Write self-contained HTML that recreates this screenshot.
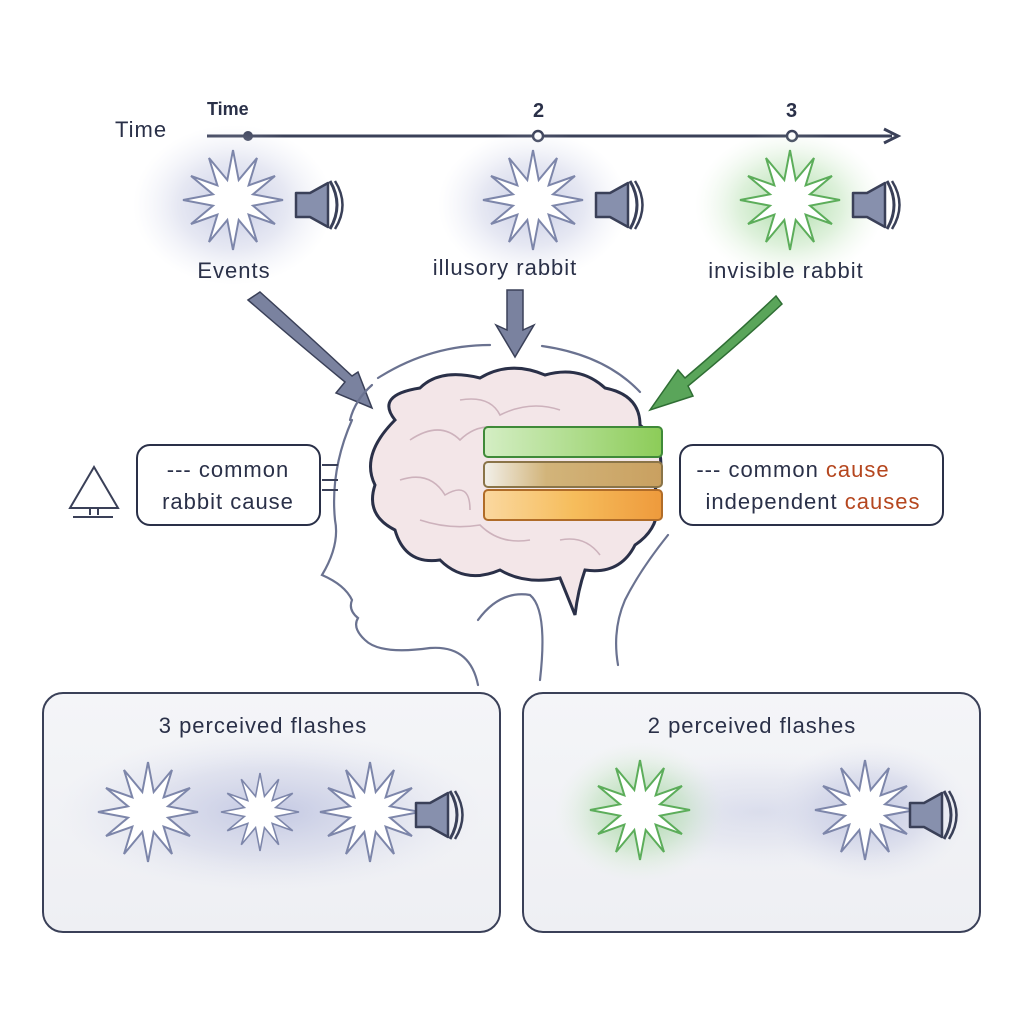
<!DOCTYPE html>
<html><head><meta charset="utf-8"><style>
html,body{margin:0;padding:0;background:#fff;}
svg{display:block;}
text{font-family:"Liberation Sans",sans-serif;fill:#2a3048;}
.l{font-size:22px;letter-spacing:1px;}
</style></head><body>
<svg width="1024" height="1024" viewBox="0 0 1024 1024" xmlns="http://www.w3.org/2000/svg">
<defs>
<radialGradient id="gb"><stop offset="0" stop-color="#b8bede" stop-opacity=".8"/><stop offset=".55" stop-color="#c8cce4" stop-opacity=".45"/><stop offset="1" stop-color="#dfe2f0" stop-opacity="0"/></radialGradient>
<radialGradient id="gg"><stop offset="0" stop-color="#8fd08a" stop-opacity=".8"/><stop offset=".55" stop-color="#b6e0b0" stop-opacity=".45"/><stop offset="1" stop-color="#dff0dc" stop-opacity="0"/></radialGradient>
<linearGradient id="bg1" x1="0" x2="1"><stop offset="0" stop-color="#d4eec4"/><stop offset="1" stop-color="#8ccc58"/></linearGradient>
<linearGradient id="bg2" x1="0" x2="1"><stop offset="0" stop-color="#f2f0ea"/><stop offset=".35" stop-color="#d2b47a"/><stop offset="1" stop-color="#c9a060"/></linearGradient>
<linearGradient id="bg3" x1="0" x2="1"><stop offset="0" stop-color="#fad8a0"/><stop offset=".5" stop-color="#f6bd5c"/><stop offset="1" stop-color="#ee9a3c"/></linearGradient>
<linearGradient id="pn" x1="0" y1="0" x2="0" y2="1"><stop offset="0" stop-color="#f4f5f8"/><stop offset="1" stop-color="#eeeff3"/></linearGradient>
<polygon id="star" points="0,-50 5.7,-20 24,-42 15.6,-14.6 42,-24 20,-5.7 50,0 20,5.7 42,24 15.6,14.6 24,42 5.7,20 0,50 -5.7,20 -24,42 -15.6,14.6 -42,24 -20,5.7 -50,0 -20,-5.7 -42,-24 -15.6,-14.6 -24,-42 -5.7,-20"/>
<g id="spk"><path d="M-22,-12 L-8,-12 L10,-22 L10,22 L-8,12 L-22,12 Z" fill="#8790ad" stroke="#3a4058" stroke-width="2.5" stroke-linejoin="round"/><path d="M12,-24 Q26,0 12,24" fill="none" stroke="#3a4058" stroke-width="3"/><path d="M17,-24 Q32,0 17,24" fill="none" stroke="#3a4058" stroke-width="2.5"/></g>
</defs>

<text x="115" y="137" font-size="22" letter-spacing="1">Time</text>
<text x="207" y="115" font-size="18" font-weight="bold">Time</text>
<text x="533" y="117" font-size="20" font-weight="bold">2</text>
<text x="786" y="117" font-size="20" font-weight="bold">3</text>
<line x1="207" y1="136" x2="892" y2="136" stroke="#3a4058" stroke-width="3"/>
<path d="M884,129 L898,136 L884,143" fill="none" stroke="#3a4058" stroke-width="3"/>
<circle cx="248" cy="136" r="5" fill="#3a4058"/>
<circle cx="538" cy="136" r="5" fill="#fff" stroke="#3a4058" stroke-width="2.5"/>
<circle cx="792" cy="136" r="5" fill="#fff" stroke="#3a4058" stroke-width="2.5"/>

<ellipse cx="233" cy="205" rx="100" ry="80" fill="url(#gb)"/>
<use href="#star" x="233" y="200" fill="#fff" stroke="#7d86aa" stroke-width="2"/>
<use href="#spk" x="318" y="205"/>
<ellipse cx="533" cy="205" rx="95" ry="75" fill="url(#gb)"/>
<use href="#star" x="533" y="200" fill="#fff" stroke="#7d86aa" stroke-width="2"/>
<use href="#spk" x="618" y="205"/>
<ellipse cx="790" cy="205" rx="95" ry="75" fill="url(#gg)"/>
<use href="#star" x="790" y="200" fill="#fff" stroke="#5cad5a" stroke-width="2"/>
<use href="#spk" x="875" y="205"/>
<text x="234" y="278" class="l" text-anchor="middle">Events</text>
<text x="505" y="275" class="l" text-anchor="middle">illusory rabbit</text>
<text x="786" y="278" class="l" text-anchor="middle">invisible rabbit</text>

<path d="M248,300 Q300,345 345,382 L336,393 L372,408 L358,372 L352,376 Q308,335 260,292 Z" fill="#7a829f" stroke="#3a4058" stroke-width="1.5"/>
<path d="M507,290 L523,290 L523,330 L534,325 L515,357 L496,325 L507,330 Z" fill="#7a829f" stroke="#3a4058" stroke-width="1.5"/>
<path d="M776,296 Q730,340 685,378 L678,370 L650,410 L693,396 L688,386 Q738,345 782,304 Z" fill="#5aa55a" stroke="#2f6e34" stroke-width="1.5"/>

<g fill="none" stroke="#6a7290" stroke-width="2.2" stroke-linecap="round">
<path d="M378,378 Q430,345 490,345"/>
<path d="M542,346 Q605,355 640,392"/>
<path d="M352,420 Q330,470 335,520 Q340,545 322,575 Q345,585 352,600 Q348,610 358,618 Q352,628 365,640 Q380,655 430,648 Q470,645 478,685"/>
<path d="M668,535 Q640,570 625,600 Q612,630 618,665"/>
<path d="M478,620 Q500,590 530,595 Q548,610 540,680"/>
<path d="M372,385 Q355,400 350,420"/>
</g>
<g stroke="#3a4058" stroke-width="2"><line x1="322" y1="465" x2="338" y2="465"/><line x1="322" y1="480" x2="338" y2="480"/><line x1="322" y1="490" x2="338" y2="490"/></g>

<path d="M395,420 Q375,395 420,388 Q440,368 480,378 Q510,360 545,375 Q580,365 605,388 Q640,395 640,425 Q672,450 655,490 Q665,525 635,545 Q620,575 585,570 Q578,590 575,615 Q565,590 560,578 Q525,585 500,570 Q465,585 440,560 Q405,565 395,530 Q365,515 375,485 Q360,455 395,420 Z" fill="#f3e6e8" stroke="#2a3048" stroke-width="3"/>
<g fill="none" stroke="#cdb2bc" stroke-width="1.6">
<path d="M410,440 Q440,420 460,440 Q480,420 510,430"/>
<path d="M400,480 Q430,470 445,495 Q470,480 470,510"/>
<path d="M460,400 Q490,395 500,415 Q530,400 560,410"/>
<path d="M420,520 Q450,530 480,525 Q500,545 530,540"/>
<path d="M560,540 Q585,535 600,555"/>
</g>
<rect x="484" y="427" width="178" height="30" rx="4" fill="url(#bg1)" stroke="#3f8a38" stroke-width="2"/>
<rect x="484" y="462" width="178" height="25" rx="4" fill="url(#bg2)" stroke="#8a7448" stroke-width="2"/>
<rect x="484" y="490" width="178" height="30" rx="4" fill="url(#bg3)" stroke="#b06c28" stroke-width="2"/>

<rect x="137" y="445" width="183" height="80" rx="13" fill="#fff" stroke="#2a3048" stroke-width="2"/>
<text x="228" y="477" class="l" text-anchor="middle">--- common</text>
<text x="228" y="509" class="l" text-anchor="middle">rabbit cause</text>
<rect x="680" y="445" width="263" height="80" rx="13" fill="#fff" stroke="#2a3048" stroke-width="2"/>
<text x="793" y="477" class="l" text-anchor="middle">--- common <tspan style="fill:#b5461e">cause</tspan></text>
<text x="813" y="509" class="l" text-anchor="middle">independent <tspan style="fill:#b5461e">causes</tspan></text>
<g fill="none" stroke="#3a4058" stroke-width="2"><path d="M94,467 L70,508 L118,508 Z"/><line x1="73" y1="517" x2="113" y2="517"/><line x1="90" y1="508" x2="90" y2="515"/><line x1="98" y1="508" x2="98" y2="515"/></g>

<rect x="43" y="693" width="457" height="239" rx="20" fill="url(#pn)" stroke="#3a4058" stroke-width="2"/>
<rect x="523" y="693" width="457" height="239" rx="20" fill="url(#pn)" stroke="#3a4058" stroke-width="2"/>
<text x="263" y="733" class="l" text-anchor="middle">3 perceived flashes</text>
<text x="752" y="733" class="l" text-anchor="middle">2 perceived flashes</text>
<ellipse cx="270" cy="812" rx="215" ry="80" fill="url(#gb)"/>
<use href="#star" transform="translate(148,812)" fill="#fff" stroke="#7d86aa" stroke-width="2"/>
<use href="#star" transform="translate(260,812) scale(.78)" fill="#fff" stroke="#7d86aa" stroke-width="2"/>
<use href="#star" transform="translate(370,812)" fill="#fff" stroke="#7d86aa" stroke-width="2"/>
<use href="#spk" x="438" y="815"/>
<ellipse cx="760" cy="812" rx="200" ry="60" fill="url(#gb)" opacity=".5"/>
<ellipse cx="870" cy="812" rx="100" ry="70" fill="url(#gb)"/>
<ellipse cx="640" cy="812" rx="85" ry="70" fill="url(#gg)"/>
<use href="#star" transform="translate(640,810)" fill="#fff" stroke="#5cad5a" stroke-width="2"/>
<use href="#star" transform="translate(865,810)" fill="#fff" stroke="#7d86aa" stroke-width="2"/>
<use href="#spk" x="932" y="815"/>
</svg>
</body></html>
